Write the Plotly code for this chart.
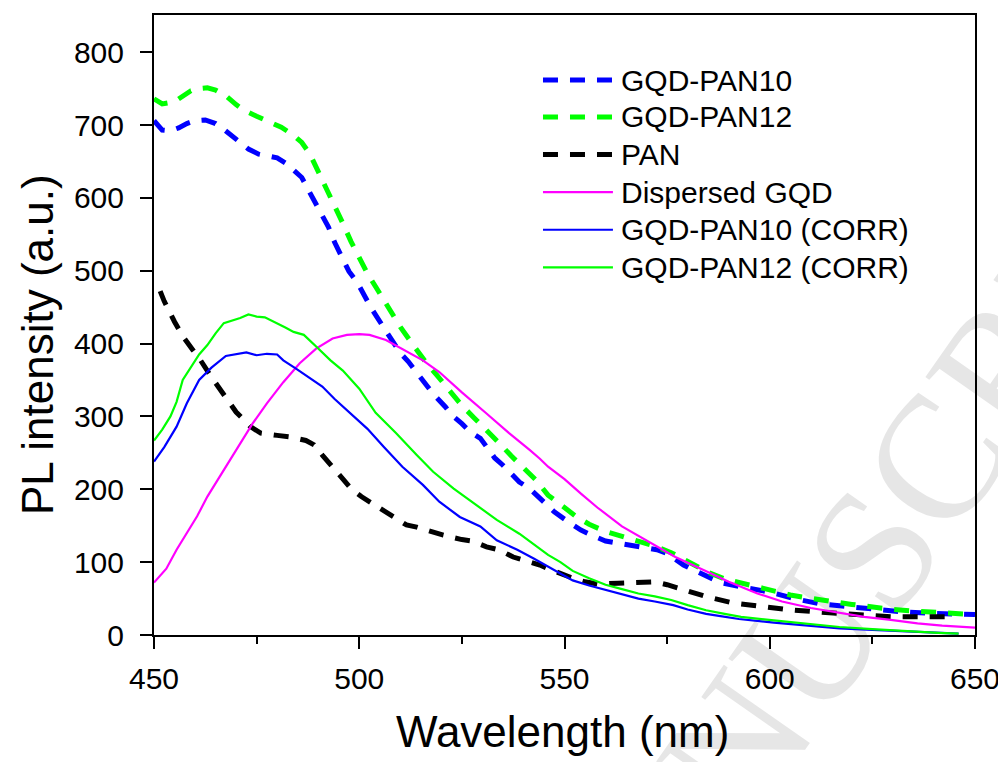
import plotly.graph_objects as go

# ---------------- data ----------------
pan12_x = [450, 452, 455, 457, 459, 461, 463, 465, 467.5, 470, 472, 475, 478, 481, 484, 486, 488, 490, 492,
           494, 496, 498, 500, 502, 504, 506, 508, 510, 513, 516, 519, 522, 525, 528, 531, 534, 537, 540, 543,
           546, 550, 553, 556, 560, 563, 566, 569, 572, 576, 579, 582, 585, 589, 592, 595, 598, 602, 605, 608,
           611, 615, 620, 625, 630, 635, 640, 645, 650]
pan12_y = [736, 729, 732, 739, 747, 750, 751, 748, 740, 728, 720, 712, 705, 697, 686, 676, 660, 637, 612,
           588, 565, 540, 518, 496, 478, 459, 440, 423, 399, 376, 356, 335, 315, 298, 282, 264, 246, 230, 213,
           192, 175, 162, 152, 142, 137, 132, 128, 122, 113, 104, 94, 86, 77, 73, 69, 64, 58, 55, 52,
           49, 46, 42, 38, 35, 33, 31, 29, 28]

pan10_x = [450, 452, 454, 456, 458, 460, 462.5, 465, 467, 469, 471, 473, 475.5, 478, 480, 482, 484, 486,
           487.5, 489, 491, 492.5, 494, 495.5, 497.5, 499.5, 501.5, 503, 505.5, 507, 510, 512, 515.5, 518, 521,
           522.5, 525, 527, 529.5, 533, 535, 539, 541.5, 546, 547.5, 551, 554, 557, 560, 563, 566, 569, 572.5,
           575, 579, 581.5, 585.5, 588, 593, 600, 606, 612, 619, 625, 632, 638, 645, 650]
pan10_y = [706, 693, 692, 696, 702, 706, 707, 702, 694, 685, 676, 667, 660, 657, 655, 648, 639, 628,
           612, 596, 576, 560, 539, 522, 499, 484, 463, 448, 426, 413, 387, 375, 350, 331, 313,
           302, 290, 279, 270, 243, 233, 210, 201, 177, 169, 155, 144, 136, 129, 126, 123, 121, 117,
           112, 96, 89, 78, 72, 66, 59, 50, 43, 39, 35, 32, 30, 29, 28]

pan_x = [451.5, 452.5, 455, 457, 459.5, 461, 464, 465.5, 468.5, 470, 473.5, 476, 480, 483, 487, 489, 491,
         493, 495, 498, 500.5, 503, 505, 507.5, 511.5, 514, 518.5, 520.5, 525, 527.5, 531, 534, 537.5, 540,
         544, 546, 549, 552, 555, 558, 563, 567, 572, 575, 578, 581, 585, 591, 598, 604, 611, 617, 624, 630,
         637, 645]
pan_y = [472, 458, 430, 410, 391, 380, 354, 342, 318, 306, 286, 277, 274, 272, 267, 261, 247,
         234, 222, 201, 190, 181, 174, 165, 151, 148, 140, 137, 131, 129, 121, 117, 107, 103,
         96, 91, 84, 78, 73, 70, 71, 72, 73, 69, 64, 58, 52, 44, 39, 35, 32, 29, 27, 25,
         25, 25]

gqd_x = [450, 453, 455.5, 458, 460.5, 463, 466, 468.5, 471, 474, 477.5, 481.5, 485.5, 489.5, 493.5, 497,
         500, 502.5, 506.5, 510.5, 515.5, 519.5, 525, 531, 536.5, 541.5, 544, 546, 550, 554, 558, 564, 571,
         577, 584, 590, 597, 603, 610, 616, 623, 629, 636, 642, 650]
gqd_y = [72, 91, 117, 140, 163, 190, 217, 240, 263, 290, 318, 347, 373, 393, 407, 412,
         413, 412, 405, 393, 377, 361, 333, 304, 277, 254, 242, 231, 214, 194, 175, 149, 126,
         107, 89, 73, 57, 46, 37, 31, 25, 21, 16, 13, 10]

corr10_x = [450, 452.5, 455.5, 458, 461, 464, 467.5, 470, 472.5, 475, 477.5, 480, 481.5, 484.5, 488, 491,
            494, 497.5, 502, 506, 510.5, 515.5, 519.5, 524.5, 529.5, 533.5, 538.5, 542.5, 546, 552, 556,
            560, 564, 568, 572, 576.5, 580, 584.5, 588, 592.5, 601, 609, 617, 625, 633, 641, 646]
corr10_y = [238, 258, 286, 318, 350, 367, 383, 385, 388, 384, 386, 385, 377, 366, 352, 341,
            324, 306, 283, 258, 231, 206, 183, 162, 149, 130, 117, 105, 94, 75, 68,
            62, 56, 50, 46, 41, 35, 29, 26, 22, 17, 13, 9, 7, 5, 3, 2]

corr12_x = [450, 452, 454, 455.5, 457, 459.5, 461, 463, 465, 467, 469, 471, 473, 475, 477, 480, 482, 484,
            486.5, 489.5, 493, 496, 500, 504, 509, 514, 518, 523, 528, 533.5, 539, 543, 546, 549, 552, 556,
            560, 564, 568, 572, 576, 580, 584.5, 589, 593, 601, 609, 617, 625, 633, 641, 646]
corr12_y = [267, 282, 300, 320, 350, 373, 385, 398, 414, 428, 431, 435, 440, 437, 436, 428, 422, 416,
            412, 396, 377, 363, 338, 305, 277, 247, 224, 201, 181, 158, 139, 122, 110, 100, 88, 78,
            69, 63, 57, 53, 48, 41, 34, 29, 25, 20, 15, 11, 8, 5, 3, 2]

series_names = ["GQD-PAN10", "GQD-PAN12", "PAN", "Dispersed GQD", "GQD-PAN10 (CORR)", "GQD-PAN12 (CORR)"]
series_x = [pan10_x, pan12_x, pan_x, gqd_x, corr10_x, corr12_x]
series_y = [pan10_y, pan12_y, pan_y, gqd_y, corr10_y, corr12_y]

x_ticks = [450, 500, 550, 600, 650]
y_ticks = [0, 100, 200, 300, 400, 500, 600, 700, 800]

# ---------------- styles ----------------
colors = ["#0000FF", "#00FF00", "#000000", "#FF00FF", "#0000FF", "#00FF00"]
dashes = ["15px,12px", "15px,12px", "15px,12px", "solid", "solid", "solid"]
widths = [5, 5, 5, 2.2, 2.2, 2.2]

FONT = "Liberation Sans, Arial, sans-serif"

fig = go.Figure()
for name, xs, ys, c, d, w in zip(series_names, series_x, series_y, colors, dashes, widths):
    fig.add_trace(go.Scatter(x=xs, y=ys, mode="lines", name=name,
                             line=dict(color=c, dash=d, width=w), showlegend=False))

# ---- legend drawn as line samples + text (long samples like the reference) ----
leg_x0, leg_x1, leg_tx = 0.4738, 0.559, 0.566
leg_rows = [0.895, 0.8355, 0.7749, 0.7143, 0.6536, 0.5929]
shapes = []
annotations = []
for name, c, d, w, yy in zip(series_names, colors, dashes, widths, leg_rows):
    shapes.append(dict(type="line", xref="paper", yref="paper", x0=leg_x0, x1=leg_x1, y0=yy, y1=yy,
                       line=dict(color=c, width=w, dash=d)))
    annotations.append(dict(text=name, xref="paper", yref="paper", x=leg_tx, y=yy, xanchor="left",
                            yanchor="middle", showarrow=False, font=dict(family=FONT, size=30, color="black")))

# ---- watermark (below everything) ----
shapes.append(dict(type="rect", xref="paper", yref="paper", x0=0.48, x1=0.54, y0=-0.53, y1=-0.47,
                   layer="below", line=dict(width=0), fillcolor="rgba(0,0,0,0)",
                   label=dict(text="ACCEPTED MANUSCRIPT", textangle=-55, textposition="middle center",
                              font=dict(family="Liberation Serif, Times New Roman, serif", size=176,
                                        color="#e6e6e6"))))

# ---- axis titles ----
annotations.append(dict(text="Wavelength (nm)", xref="paper", yref="paper", x=0.497, y=-0.155,
                        xanchor="center", yanchor="middle", showarrow=False,
                        font=dict(family=FONT, size=44, color="black")))
annotations.append(dict(text="PL intensity (a.u.)", xref="paper", yref="paper", x=-0.141, y=0.468,
                        xanchor="center", yanchor="middle", showarrow=False, textangle=-90,
                        font=dict(family=FONT, size=44, color="black")))

# the page body adds an 8px margin, so the figure is 8px smaller and margins shifted
fig.update_layout(
    width=998, height=754,
    margin=dict(l=146, r=31, t=7, b=127, autoexpand=False),
    paper_bgcolor="white", plot_bgcolor="rgba(0,0,0,0)",
    showlegend=False,
    shapes=shapes, annotations=annotations,
    font=dict(family=FONT, color="black"),
)
fig.update_xaxes(range=[450, 650], tickvals=x_ticks, ticks="outside", ticklen=12, tickwidth=2,
                 tickcolor="black", showline=True, linecolor="black", linewidth=2, mirror=True,
                 showgrid=False, zeroline=False, tickfont=dict(family=FONT, size=30),
                 minor=dict(dtick=25, tick0=450, ticks="outside", ticklen=7, tickwidth=2, tickcolor="black",
                            showgrid=False),
                 ticklabelstandoff=4, automargin=False)
fig.update_yaxes(range=[0, 851], tickvals=y_ticks, ticks="outside", ticklen=12, tickwidth=2,
                 tickcolor="black", showline=True, linecolor="black", linewidth=2, mirror=True,
                 showgrid=False, zeroline=False, tickfont=dict(family=FONT, size=30),
                 ticklabelstandoff=10, automargin=False)

fig.write_html("out.html")
